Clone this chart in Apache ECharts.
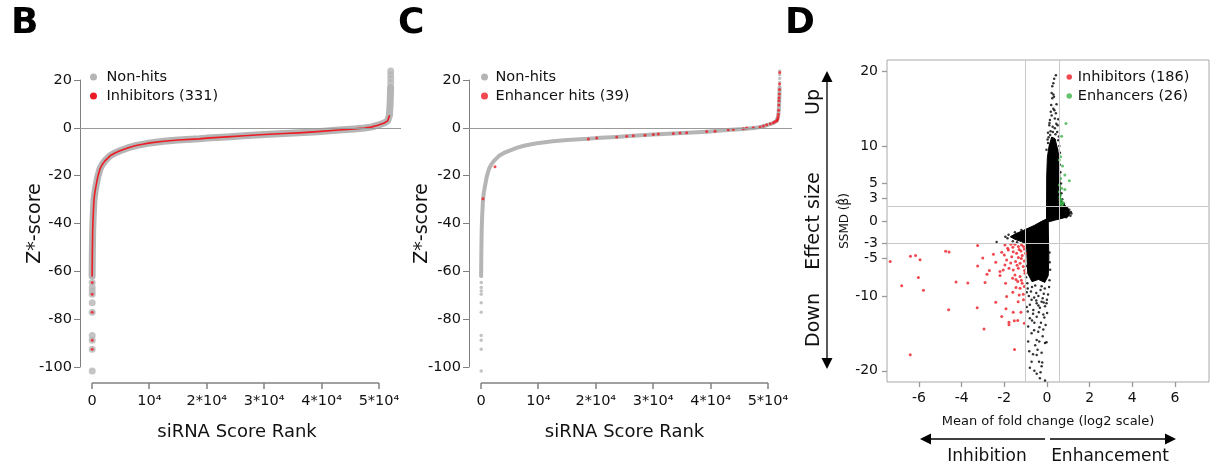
<!DOCTYPE html>
<html>
<head>
<meta charset="utf-8">
<script src="https://cdn.jsdelivr.net/npm/echarts@6.0.0/dist/echarts.min.js"></script>
<style>
  html, body { margin: 0; padding: 0; background: #fff; }
  #main { width: 1211px; height: 464px; }
</style>
</head>
<body>
<div id="main"></div>
<script>
const FONT = "DejaVu Sans";
const GRAY = "#b5b5b5";
const RED = "#ec1c24";
const GREEN = "#3cb44a";

// B / C: sorted Z*-scores
const curveRank = [20, 60, 120, 200, 350, 500, 700, 1000, 1390, 1800, 2260, 3140, 4000, 4880, 6200,
  7490, 8800, 10100, 12500, 15000, 18700, 20000, 23500, 26500, 30000, 33500, 36000, 39300, 43000,
  45700, 47500, 48600, 49800, 50900, 51500, 51800, 51920, 51980, 52020];
const curveZ = [-62, -52, -43, -37, -30, -27, -24.3, -20.5, -17.2, -15.3, -13.8, -11.7, -10.5, -9.6, -8.4,
  -7.5, -6.9, -6.3, -5.6, -5.1, -4.6, -4.3, -3.8, -3.3, -2.8, -2.4, -2.1, -1.6, -0.9,
  -0.45, -0.1, 0.3, 1.1, 2.0, 2.9, 5.0, 9, 13, 17];
// single siRNAs beyond the curve ends
const lowRank = 40;
const lowZ = [-64.7, -66.8, -68.2, -69.6, -73.1, -77.1, -86.8, -88.8, -92.6, -101.7];
const lowInhibZ = [-64.7, -69.6, -77.1, -88.8, -92.6];
const highRank = 52040;
const highZ = [19.0, 20.6, 22.2, 23.8];
// C: enhancer hits (rank, Z*)
const enhancerHits = [[350, -29.7], [2440, -16.3], [18700, -4.7], [20150, -4.3], [23640, -3.8],
  [25380, -3.5], [26540, -3.3], [28570, -3.1], [30020, -2.8], [30890, -2.6], [33500, -2.4],
  [34670, -2.2], [35830, -2.1], [39320, -1.5], [40770, -1.4], [43080, -0.8], [43960, -0.7],
  [45700, -0.4], [46280, -0.1], [47440, 0], [48610, 0.4], [49200, 0.8], [49770, 1.3], [50400, 1.7],
  [50930, 2.1], [51200, 2.5], [51520, 2.9], [51600, 3.3], [51700, 3.8], [51750, 4.6], [51800, 5.7],
  [51850, 7.4], [51880, 9.5], [51910, 11.3], [51940, 12.6], [51970, 14.1], [52000, 16.0],
  [52020, 18.3], [52040, 23.1]];
const rankTicks = [0, 10000, 20000, 30000, 40000, 50000];
const rankTickLabels = ["0", "10⁴", "2*10⁴", "3*10⁴", "4*10⁴", "5*10⁴"];

// D: mean log2 fold change vs SSMD
const dTicksX = [-6, -4, -2, 0, 2, 4, 6];
const dTicksY = [-20, -10, -5, -3, 0, 3, 5, 10, 20];
const dCutX = [-1, 0.6];
const dCutY = [2, -3];
// outlines of the solid part of the point cloud
const dCloudUpper = [[-0.02, 0], [-0.01, 6], [0.02, 8.5], [0.1, 10], [0.22, 11.2], [0.38, 11.0],
  [0.5, 9.6], [0.58, 8.2], [0.61, 5], [0.63, 3], [0.75, 2.4], [1.0, 1.6], [1.08, 1.0], [1.0, 0.6],
  [0.7, 0.35], [0.35, 0.1], [0.1, -0.1]];
const dCloudLower = [[0.06, 0.4], [0.07, -2], [0.09, -5], [0.06, -7.3], [-0.1, -8.2], [-0.4, -7.8],
  [-0.7, -8.1], [-0.9, -7.0], [-0.93, -5], [-0.96, -3.1], [-1.2, -2.75], [-1.5, -2.45], [-1.72, -2.1],
  [-1.5, -1.75], [-1.1, -1.25], [-0.6, -0.6], [-0.25, -0.05], [0.0, 0.3]];
const dOtherPts = [
  [0.42, 19.47], [0.34, 19.0], [0.30, 18.4], [0.25, 18.0], [0.22, 17.1], [0.30, 16.9], [0.33, 16.6],
  [0.25, 16.4], [0.30, 15.0], [0.42, 14.4], [0.22, 14.1], [0.37, 13.7], [0.53, 13.6], [0.14, 13.5],
  [0.11, 12.8], [0.27, 12.6], [0.37, 12.4], [0.17, 12.0], [0.48, 11.9], [0.08, 11.2], [0.53, 10.8],
  [0.58, 10.0], [0.05, 10.4], [-0.02, 9.5], [0.48, 9.5], [0.61, 9.1], [0.05, 11.8], [0.5, 12.8],
  [0.45, 15.6], [0.2, 15.5], [0.15, 11.5], [0.4, 11.6], [0.28, 11.9], [0.12, 13.1], [0.44, 13.0],
  [0.35, 14.8], [0.18, 14.6], [0.56, 11.3], [0.03, 10.9],
  [1.15, 1.0], [1.1, 0.7], [1.05, 1.5], [0.95, 1.7], [1.12, 1.2], [0.9, 0.5], [0.8, 2.3], [0.72, 2.9],
  [0.68, 3.7], [0.66, 5], [0.63, 6.5], [0.6, 7.5],
  [-0.88, -16.1], [-0.83, -17.4], [-0.72, -18.8], [-0.80, -19.6], [-0.59, -20.0], [-0.48, -20.4],
  [-0.33, -21.0], [-0.09, -21.3], [-0.25, -19.4], [-0.37, -18.8], [-0.22, -18.9], [-0.48, -17.9],
  [-0.25, -17.6], [-0.44, -17.2], [-0.09, -16.3], [-0.02, -16.2], [-0.36, -16.1], [-0.48, -15.9],
  [-0.72, -15.0], [-0.41, -14.8], [-0.17, -14.5], [-0.88, -14.1], [-0.59, -13.6], [-0.28, -13.6],
  [-0.06, -13.9], [-0.80, -13.0], [-0.48, -12.8], [-0.17, -12.5], [0.01, -12.3], [-0.90, -12.1],
  [-0.64, -11.9], [-0.33, -11.6], [-0.09, -11.4], [-0.80, -11.2], [-0.48, -11.0], [-0.25, -10.8],
  [-0.72, -10.5], [-0.02, -11.0], [-0.9, -9.0], [-0.7, -8.8], [-0.5, -9.6], [-0.3, -9.2], [-0.1, -9.0],
  [0.05, -9.8], [-0.85, -10.0], [-0.6, -10.2], [-0.4, -10.0], [-0.2, -10.3], [0.0, -10.5],
  [-0.75, -9.4], [-0.15, -9.7], [-0.95, -9.5], [-0.55, -8.6], [-0.25, -8.7], [0.1, -8.8],
  [0.12, -7.9], [-0.92, -8.3], [0.15, -6.5], [0.13, -5.5], [0.12, -4.2], [-0.65, -12.4],
  [-0.38, -12.2], [-0.12, -12.9], [-0.7, -13.3], [-0.35, -14.2], [-0.6, -14.6], [-0.55, -16.6],
  [-0.2, -15.4], [-0.65, -17.8], [-0.3, -20.2], [-0.95, -11.5], [-0.4, -11.3], [-0.15, -10.9],
  [-0.5, -10.6], [-2.36, -2.8], [-1.85, -2.3], [-1.95, -2.1], [-1.6, -2.7], [-1.4, -2.85],
  [-1.8, -1.85], [-1.5, -1.5], [-1.2, -1.2], [-0.95, -3.5], [-0.97, -6], [-0.98, -7.5]];
const dInhibitors = [
  [-7.35, -5.42], [-6.81, -8.65], [-6.40, -4.72], [-6.16, -4.60], [-5.95, -5.18], [-6.03, -7.56],
  [-5.79, -9.26], [-6.41, -17.87], [-4.75, -4.04], [-4.59, -4.13], [-4.61, -11.85], [-4.26, -8.15],
  [-3.71, -8.27], [-3.25, -3.27], [-3.25, -6.02], [-3.27, -11.6], [-3.01, -4.93], [-2.90, -8.22],
  [-2.81, -7.11], [-2.51, -4.44], [-2.40, -10.84], [-2.95, -14.42], [-2.12, -4.18], [-2.05, -6.53],
  [-2.20, -7.29], [-1.94, -8.31], [-1.89, -10.09], [-1.92, -11.73], [-2.12, -12.76], [-1.78, -13.51],
  [-1.58, -12.18], [-1.22, -12.18], [-1.53, -13.33], [-1.37, -13.29], [-1.78, -13.87], [-1.06, -13.64],
  [-1.52, -17.15], [-1.69, -3.11], [-1.50, -3.10], [-1.34, -3.42], [-1.19, -3.2], [-1.81, -3.87],
  [-1.58, -4.09], [-1.42, -4.31], [-1.22, -4.0], [-1.06, -3.73], [-1.65, -4.76], [-1.34, -4.89],
  [-1.16, -4.62], [-1.47, -5.42], [-1.26, -5.64], [-1.06, -5.33], [-1.97, -5.87], [-1.78, -6.31],
  [-1.58, -6.53], [-1.34, -6.31], [-1.11, -6.09], [-2.20, -6.76], [-1.50, -7.2], [-1.26, -7.42],
  [-1.03, -6.98], [-1.61, -7.65], [-1.37, -8.09], [-1.16, -8.31], [-1.45, -8.89], [-1.26, -8.98],
  [-1.06, -8.76], [-1.30, -9.87], [-1.11, -9.78], [-2.0, -4.53], [-1.89, -5.2], [-1.97, -3.2],
  [-1.84, -3.64], [-1.1, -3.4], [-1.3, -3.8], [-1.6, -3.5], [-1.0, -4.3], [-1.2, -5.0], [-1.4, -5.9],
  [-1.7, -5.6], [-1.05, -6.6], [-1.45, -7.8], [-1.2, -7.9], [-1.1, -10.5], [-1.35, -10.8],
  [-1.6, -9.5], [-2.4, -5.5], [-2.7, -6.6]];
const dEnhancers = [[0.89, 13.02], [0.69, 11.33], [0.64, 8.58], [0.58, 8.13], [0.73, 7.33],
  [0.84, 6.13], [1.05, 5.38], [0.64, 5.69], [0.58, 4.8], [0.69, 4.36], [0.58, 3.91], [0.64, 3.47],
  [0.61, 2.8], [0.69, 2.58], [0.77, 2.44], [0.64, 2.27], [0.73, 2.27], [0.84, 4.22], [0.6, 3.2],
  [0.66, 2.9], [0.7, 2.1], [0.62, 2.45]];

const curve = curveRank.map((r, i) => [r, curveZ[i]]);
const txt = { fontFamily: FONT, color: "#111" };
const AXIS_GRAY = "#808080";
const RANK_AXIS_DROP = 16; // px between -100 and the detached rank axis

function rankPanel(gi, left, width, yNameGap, xNamePad) {
  return {
    grid: { left: left, top: 80, width: width, height: 287 },
    xAxis: {
      gridIndex: gi, type: "value", min: -2090, max: -2090 + width * 10000 / 57.4, offset: RANK_AXIS_DROP,
      axisLine: { show: false, onZero: false },
      axisTick: { show: false },
      splitLine: { show: false },
      axisLabel: {
        ...txt, fontSize: 14.5, margin: 11, customValues: rankTicks,
        formatter: (v) => rankTickLabels[rankTicks.indexOf(v)]
      },
      name: "siRNA Score Rank", nameLocation: "middle", nameGap: 40,
      nameTextStyle: { ...txt, fontSize: 18, padding: [0, xNamePad, 0, 0] }
    },
    yAxis: {
      gridIndex: gi, type: "value", min: -100, max: 20, interval: 20,
      axisLine: { show: true, onZero: false, lineStyle: { color: AXIS_GRAY } },
      axisTick: { show: true, length: 6, lineStyle: { color: AXIS_GRAY } },
      splitLine: { show: false },
      axisLabel: { ...txt, fontSize: 14.5, margin: 8 },
      name: "Z*-score", nameLocation: "middle", nameGap: yNameGap, nameRotate: 90,
      nameMoveOverlap: false,
      nameTextStyle: { ...txt, fontSize: 19 }
    }
  };
}

const pB = rankPanel(0, 80, 321, 35, 7);
const pC = rankPanel(1, 469, 323, 37, 12);

// zero line across the panel
const zeroLine = (gi) => ({
  type: "line", xAxisIndex: gi, yAxisIndex: gi, data: [], z: 1, silent: true,
  markLine: {
    symbol: ["none", "none"], silent: true, label: { show: false }, animation: false,
    lineStyle: { color: "#9a9a9a", type: "solid", width: 1 }, data: [{ yAxis: 0 }]
  }
});

const dGraphics = [
  { type: "line", shape: { x1: 827, y1: 80, x2: 827, y2: 360 }, style: { stroke: "#000", lineWidth: 1.3 } },
  { type: "polygon", shape: { points: [[827, 71], [821.5, 82], [832.5, 82]] }, style: { fill: "#000" } },
  { type: "polygon", shape: { points: [[827, 369], [821.5, 358], [832.5, 358]] }, style: { fill: "#000" } },
  { type: "line", shape: { x1: 930, y1: 439, x2: 1045, y2: 439 }, style: { stroke: "#000", lineWidth: 1.3 } },
  { type: "polygon", shape: { points: [[920, 439], [931, 433.5], [931, 444.5]] }, style: { fill: "#000" } },
  { type: "line", shape: { x1: 1050, y1: 439, x2: 1166, y2: 439 }, style: { stroke: "#000", lineWidth: 1.3 } },
  { type: "polygon", shape: { points: [[1176, 439], [1165, 433.5], [1165, 444.5]] }, style: { fill: "#000" } },
  ...[["Up", 102], ["Effect size", 221], ["Down", 320]].map(([t, y]) => ({
    type: "text", x: 814, y: y, rotation: Math.PI / 2,
    style: { text: t, fontFamily: FONT, fontSize: 19, fill: "#111", align: "center", verticalAlign: "middle" }
  })),
  ...[["Inhibition", 987], ["Enhancement", 1110]].map(([t, x]) => ({
    type: "text", x: x, y: 457,
    style: { text: t, fontFamily: FONT, fontSize: 17, fill: "#111", align: "center", verticalAlign: "middle" }
  }))
];

const myChart = echarts.init(document.getElementById("main"));
myChart.setOption({
  animation: false,
  backgroundColor: "#fff",
  title: [
    { text: "B", left: 11, top: 6, padding: 0 },
    { text: "C", left: 398, top: 6, padding: 0 },
    { text: "D", left: 785, top: 6, padding: 0 }
  ].map(t => ({ ...t, textStyle: { fontFamily: FONT, fontSize: 36, fontWeight: "bold", color: "#000" } })),
  legend: [
    { left: 90, itemWidth: 16, data: ["Non-hits", "Inhibitors (331)"] },
    { left: 481, itemWidth: 12, data: ["Non-hits", "Enhancer hits (39)"] },
    { left: 1066.5, itemWidth: 7, itemHeight: 5.5, data: ["Inhibitors (186)", "Enhancers (26)"] }
  ].map(l => ({
    top: 68, orient: "vertical", itemHeight: 7, itemGap: 1, padding: 0, selectedMode: false,
    ...l,
    data: l.data.map(n => ({ name: n, icon: "circle" })),
    textStyle: { ...txt, fontSize: 14.5, lineHeight: 18 }
  })),
  grid: [pB.grid, pC.grid, { left: 887, top: 60, width: 322, height: 322, show: true, borderColor: "#a8a8a8", borderWidth: 1 }],
  xAxis: [pB.xAxis, pC.xAxis, {
    gridIndex: 2, type: "value", min: -7.5, max: 7.6,
    axisLine: { show: false, onZero: false },
    axisTick: { show: true, length: 5, lineStyle: { color: "#999", width: 1.3 }, customValues: dTicksX },
    axisLabel: { ...txt, fontSize: 14, margin: 9, customValues: dTicksX },
    splitLine: { show: false },
    name: "Mean of fold change (log2 scale)", nameLocation: "middle", nameGap: 33,
    nameTextStyle: { ...txt, fontSize: 13 }
  }],
  yAxis: [pB.yAxis, pC.yAxis, {
    gridIndex: 2, type: "value", min: -21.5, max: 21.5,
    axisLine: { show: false, onZero: false },
    axisTick: { show: true, length: 5, lineStyle: { color: "#999", width: 1.3 }, customValues: dTicksY },
    axisLabel: { ...txt, fontSize: 14, margin: 9, customValues: dTicksY },
    splitLine: { show: false },
    name: "SSMD (β̂)", nameLocation: "middle", nameGap: 34, nameRotate: 90,
    nameTextStyle: { ...txt, fontSize: 12 }
  }],
  series: [
    // B
    zeroLine(0),
    {
      name: "Non-hits", type: "line", xAxisIndex: 0, yAxisIndex: 0, data: curve, clip: false,
      showSymbol: false, z: 2, itemStyle: { color: GRAY },
      lineStyle: { color: GRAY, width: 7, cap: "round", join: "round" }
    },
    {
      name: "Non-hits", type: "scatter", xAxisIndex: 0, yAxisIndex: 0, clip: false, z: 2,
      symbolSize: 7, itemStyle: { color: GRAY },
      data: [...lowZ.map(v => [lowRank, v]), ...highZ.map(v => [highRank, v])]
    },
    {
      name: "Inhibitors (331)", type: "line", xAxisIndex: 0, yAxisIndex: 0, clip: false,
      data: curve.filter(p => p[1] < 6), showSymbol: false, z: 3, itemStyle: { color: RED },
      lineStyle: { color: RED, width: 1.6, cap: "round", join: "round" }
    },
    {
      name: "Inhibitors (331)", type: "scatter", xAxisIndex: 0, yAxisIndex: 0, clip: false, z: 3,
      symbolSize: 3, itemStyle: { color: RED }, data: lowInhibZ.map(v => [lowRank, v])
    },
    // C
    zeroLine(1),
    {
      name: "Non-hits", type: "line", xAxisIndex: 1, yAxisIndex: 1, data: curve, clip: false,
      showSymbol: false, z: 2, itemStyle: { color: GRAY },
      lineStyle: { color: GRAY, width: 4, cap: "round", join: "round" }
    },
    {
      name: "Non-hits", type: "scatter", xAxisIndex: 1, yAxisIndex: 1, clip: false, z: 2,
      symbolSize: 3.5, itemStyle: { color: GRAY },
      data: [...lowZ.map(v => [lowRank, v]), ...highZ.map(v => [highRank, v])]
    },
    {
      name: "Enhancer hits (39)", type: "scatter", xAxisIndex: 1, yAxisIndex: 1, clip: false, z: 3,
      symbolSize: 3, itemStyle: { color: RED }, data: enhancerHits
    },
    // D
    {
      type: "line", xAxisIndex: 2, yAxisIndex: 2, data: [], z: 1, silent: true,
      markLine: {
        symbol: ["none", "none"], silent: true, label: { show: false },
        lineStyle: { color: "#c9c9c9", type: "solid", width: 1 },
        data: [...dCutX.map(v => ({ xAxis: v })), ...dCutY.map(v => ({ yAxis: v }))]
      }
    },
    {
      type: "custom", xAxisIndex: 2, yAxisIndex: 2, z: 2, silent: true,
      data: [dCloudUpper[0], dCloudLower[0]],
      renderItem: (params, api) => {
        const poly = [dCloudUpper, dCloudLower][params.dataIndex];
        return {
          type: "polygon",
          shape: { points: poly.map(p => api.coord(p)) },
          style: { fill: "#000", stroke: "#000", lineWidth: 1 }
        };
      }
    },
    {
      name: "other siRNAs", type: "scatter", xAxisIndex: 2, yAxisIndex: 2, z: 3,
      symbolSize: 2.5, itemStyle: { color: "#000" }, data: dOtherPts
    },
    {
      name: "Inhibitors (186)", type: "scatter", xAxisIndex: 2, yAxisIndex: 2, z: 4,
      symbolSize: 3, itemStyle: { color: RED }, data: dInhibitors
    },
    {
      name: "Enhancers (26)", type: "scatter", xAxisIndex: 2, yAxisIndex: 2, z: 4,
      symbolSize: 3, itemStyle: { color: GREEN }, data: dEnhancers
    }
  ],
  graphic: dGraphics
});

// rank axis of B and C: line only between the end ticks, hanging under the
// plot as in base R; positions come from the chart's own scales
function rankAxisGraphics(gi, fallbackLeft) {
  const toPx = (v) => myChart.convertToPixel({ xAxisIndex: gi, yAxisIndex: gi }, v);
  let y = toPx([0, -100])[1];
  if (!isFinite(y)) y = 367;
  y = Math.round(y) + RANK_AXIS_DROP;
  const xs = rankTicks.map((t, i) => {
    const x = toPx([t, -100])[0];
    return Math.round(isFinite(x) ? x : fallbackLeft + i * 57.4);
  });
  const st = { stroke: AXIS_GRAY, lineWidth: 1.5 };
  return [
    { type: "line", z: 100, silent: true, shape: { x1: xs[0], y1: y, x2: xs[xs.length - 1], y2: y }, style: st },
    ...xs.map(x => ({ type: "line", z: 100, silent: true, shape: { x1: x, y1: y, x2: x, y2: y + 6 }, style: st }))
  ];
}
myChart.setOption({ graphic: [...dGraphics, ...rankAxisGraphics(0, 92), ...rankAxisGraphics(1, 481)] });
</script>
</body>
</html>
